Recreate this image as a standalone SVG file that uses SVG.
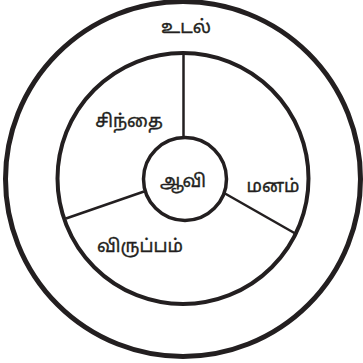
<svg xmlns="http://www.w3.org/2000/svg" width="363" height="363" viewBox="0 0 363 363">
<style>
.ring{fill:none;stroke:#231f20}
.spoke{stroke:#231f20;stroke-width:2.5;fill:none}
text{font-family:"Noto Sans Tamil","Noto Sans","Lohit Tamil",sans-serif;font-size:18px;fill:#231f20;stroke:#231f20;stroke-width:0.35;text-anchor:middle}
</style>
<rect width="363" height="363" fill="#fff"/>
<g id="body">
<circle class="ring" cx="183" cy="179" r="177.5" stroke-width="5"/>
<text x="186" y="33">உடல்</text>
</g>
<g id="mind-ring">
<circle class="ring" cx="183" cy="178.5" r="125.5" stroke-width="4"/>
</g>
<g id="connectors">
<line class="spoke" x1="183.5" y1="53" x2="183.5" y2="138"/>
<line class="spoke" x1="66" y1="218.5" x2="144" y2="191.5"/>
<line class="spoke" x1="225" y1="193.5" x2="297" y2="234.5"/>
</g>
<g id="chinthai"><text x="129" y="127">சிந்தை</text></g>
<g id="manam"><text x="273" y="192">மனம்</text></g>
<g id="viruppam"><text x="140" y="252">விருப்பம்</text></g>
<g id="aavi">
<circle class="ring" cx="185" cy="179" r="41.5" stroke-width="3.5" fill="#fff"/>
<text x="183" y="187">ஆவி</text>
</g>
</svg>
